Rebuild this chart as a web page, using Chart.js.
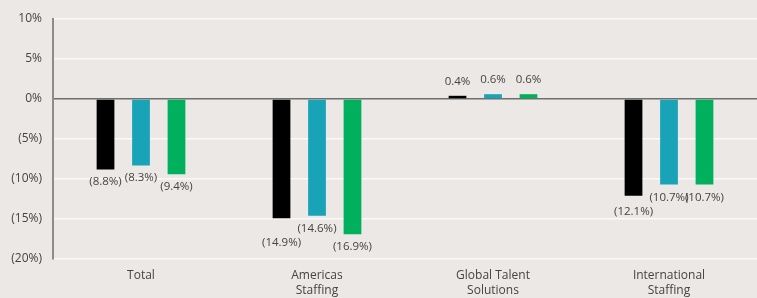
<!DOCTYPE html>
<html>
<head>
<meta charset="utf-8">
<script src="https://cdn.jsdelivr.net/npm/chart.js@4"></script>
<style>
  html, body { margin: 0; padding: 0; background: #ebe8e5; }
  #wrap { width: 757px; height: 298px; }
</style>
</head>
<body>
<div id="wrap"><canvas id="growthChart"></canvas></div>
<script>
// categories and series values (percent change)
const categories = [['Total'], ['Americas', 'Staffing'], ['Global Talent', 'Solutions'], ['International', 'Staffing']];
const seriesA = [-8.8, -14.9, 0.4, -12.1];
const seriesB = [-8.3, -14.6, 0.6, -10.7];
const seriesC = [-9.4, -16.9, 0.6, -10.7];
const yTicks = [10, 5, 0, -5, -10, -15, -20];

const fmt = (v) => (v < 0 ? `(${(-v).toFixed(1)}%)` : `${v.toFixed(1)}%`);
const fmtTick = (v) => (v < 0 ? `(${-v}%)` : `${v}%`);
const FONT = '"Open Sans", sans-serif';

const bgPlugin = {
  id: 'bg',
  beforeDraw: (chart) => {
    const { ctx, width, height } = chart;
    ctx.save();
    ctx.fillStyle = '#ebe8e5';
    ctx.fillRect(0, 0, width, height);
    ctx.restore();
  },
};

// value labels, pushed down when they collide with a neighbour
const labelPlugin = {
  id: 'valueLabels',
  afterDatasetsDraw: (chart) => {
    const { ctx } = chart;
    ctx.save();
    ctx.font = `11.5px ${FONT}`;
    ctx.fillStyle = '#444';
    ctx.textAlign = 'center';
    const h = 12;
    const n = chart.data.labels.length;
    for (let i = 0; i < n; i++) {
      const items = [];
      chart.data.datasets.forEach((ds, di) => {
        const el = chart.getDatasetMeta(di).data[i];
        const v = ds.data[i];
        items.push({ x: el.x, y: el.y, v, text: fmt(v), w: ctx.measureText(fmt(v)).width });
      });
      const placed = [];
      items
        .slice()
        .sort((a, b) => a.y - b.y)
        .forEach((it) => {
          if (it.v >= 0) {
            it.top = it.y - 8 - h;
          } else {
            it.top = it.y + 7;
            placed.forEach((p) => {
              if (p.v === it.v) return;
              const overlapX = Math.abs(p.x - it.x) < (p.w + it.w) / 2 + 1;
              const overlapY = it.top < p.top + h + 4 && it.top + h > p.top;
              if (overlapX && overlapY) it.top = p.top + h + 2;
            });
          }
          placed.push(it);
        });
      items.forEach((it) => {
        ctx.textBaseline = 'top';
        ctx.fillText(it.text, it.x, it.top);
      });
    }
    ctx.restore();
  },
};

const barStyle = { barPercentage: 0.5, categoryPercentage: 0.605, borderWidth: 0 };

new Chart(document.getElementById('growthChart'), {
  type: 'bar',
  data: {
    labels: categories,
    datasets: [
      { label: 'A', data: seriesA, backgroundColor: '#000000', ...barStyle },
      { label: 'B', data: seriesB, backgroundColor: '#18a3b7', ...barStyle },
      { label: 'C', data: seriesC, backgroundColor: '#00b05c', ...barStyle },
    ],
  },
  plugins: [bgPlugin, labelPlugin],
  options: {
    animation: false,
    responsive: true,
    maintainAspectRatio: false,
    layout: { padding: { top: 19, right: 0, left: 0, bottom: 0 } },
    plugins: {
      legend: { display: false },
      tooltip: { enabled: false },
    },
    scales: {
      x: {
        grid: { display: false },
        border: { display: false },
        ticks: {
          color: '#444',
          padding: 1,
          maxRotation: 0,
          font: { family: FONT, size: 12, lineHeight: 1.25 },
        },
        afterFit: (scale) => { scale.height = 39; },
      },
      y: {
        min: -20,
        max: 10,
        afterBuildTicks: (scale) => { scale.ticks = yTicks.map((v) => ({ value: v })); },
        grid: {
          color: (c) => (c.tick && c.tick.value === 0 ? '#6f6f6f' : '#fbfaf9'),
          lineWidth: 1.5,
          drawTicks: false,
        },
        border: { display: true, color: '#8c8c8c', width: 2 },
        ticks: {
          color: '#444',
          padding: 11,
          callback: (v) => fmtTick(v),
          font: { family: FONT, size: 12 },
        },
        afterFit: (scale) => { scale.width = 53; },
      },
    },
  },
});
</script>
</body>
</html>
